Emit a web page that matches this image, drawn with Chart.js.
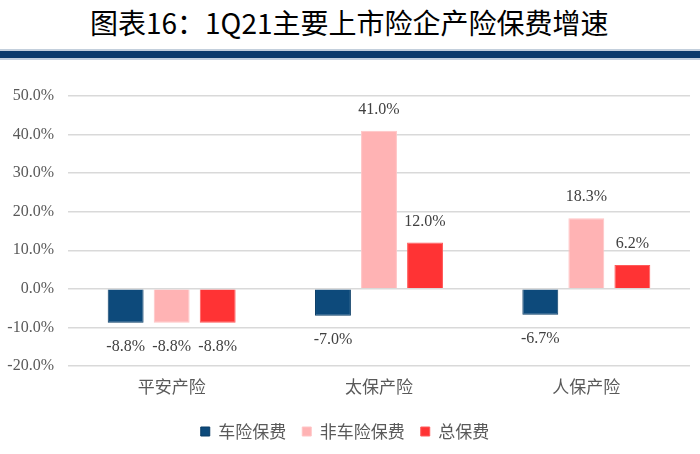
<!DOCTYPE html>
<html>
<head>
<meta charset="utf-8">
<script src="https://cdn.jsdelivr.net/npm/chart.js@4"></script>
<style>
html,body{margin:0;padding:0;background:#fff;width:700px;height:454px;overflow:hidden;}
#title{position:absolute;left:90px;top:3px;font-family:"Noto Sans CJK SC",sans-serif;font-size:28px;line-height:38px;color:#000;white-space:nowrap;}
#band{position:absolute;left:0;top:49px;width:700px;height:11px;background:#c3cfdc;}
#band2{position:absolute;left:0;top:51px;width:700px;height:7px;background:#0b3a6b;}
#wrap{position:absolute;left:0;top:60px;width:700px;height:394px;}
</style>
</head>
<body>
<div id="title">图表16：1Q21主要上市险企产险保费增速</div>
<div id="band"></div><div id="band2"></div>
<div id="wrap"><canvas id="c"></canvas></div>
<script>
const categories = ["平安产险", "太保产险", "人保产险"];
const seriesNames = ["车险保费", "非车险保费", "总保费"];
const autoPremium = [-8.8, -7.0, -6.7];
const nonAutoPremium = [-8.8, 41.0, 18.3];
const totalPremium = [-8.8, 12.0, 6.2];
const yTicks = [-20, -10, 0, 10, 20, 30, 40, 50];

const labelPlugin = {
  id: 'valueLabels',
  afterDatasetsDraw(chart) {
    const ctx = chart.ctx;
    ctx.save();
    ctx.font = '16px "Liberation Serif", serif';
    ctx.fillStyle = '#404040';
    ctx.textAlign = 'center';
    ctx.textBaseline = 'middle';
    chart.data.datasets.forEach((ds, i) => {
      const meta = chart.getDatasetMeta(i);
      meta.data.forEach((el, j) => {
        const v = ds.data[j];
        const txt = v.toFixed(1) + '%';
        const y = v >= 0 ? el.y - 21 : el.y + 24;
        ctx.fillText(txt, el.x, y);
      });
    });
    ctx.restore();
  }
};

new Chart(document.getElementById('c'), {
  type: 'bar',
  data: {
    labels: categories,
    datasets: [
      { label: seriesNames[0], data: autoPremium, backgroundColor: '#0d4a7b', borderColor: '#0a3d66', borderWidth: 1 },
      { label: seriesNames[1], data: nonAutoPremium, backgroundColor: '#ffb3b4', borderColor: '#ffc4c5', borderWidth: 1 },
      { label: seriesNames[2], data: totalPremium, backgroundColor: '#ff3334', borderColor: '#ff5a5a', borderWidth: 1 }
    ]
  },
  options: {
    responsive: true,
    maintainAspectRatio: false,
    animation: false,
    categoryPercentage: 0.666,
    barPercentage: 0.78,
    layout: { padding: { top: 36, right: 10, left: 0, bottom: 4 } },
    plugins: {
      tooltip: { enabled: false },
      legend: {
        position: 'bottom',
        labels: {
          boxWidth: 9, boxHeight: 9, padding: 16,
          color: '#595959',
          font: { family: '"Noto Sans CJK SC", sans-serif', size: 17 }
        }
      }
    },
    scales: {
      x: {
        grid: { display: false },
        border: { display: false },
        ticks: { color: '#595959', padding: 2, font: { family: '"Noto Sans CJK SC", sans-serif', size: 17 } },
        afterFit(s) { s.height = 41; }
      },
      y: {
        min: -20, max: 50,
        afterBuildTicks(s) { s.ticks = yTicks.map(v => ({ value: v })); },
        grid: { color: '#d9d9d9', lineWidth: 1.5, drawTicks: false },
        border: { display: false },
        ticks: {
          color: '#595959', padding: 14,
          font: { family: '"Liberation Serif", serif', size: 16 },
          callback: v => v.toFixed(1) + '%'
        },
        afterFit(s) { s.width = 68; }
      }
    }
  },
  plugins: [labelPlugin]
});
</script>
</body>
</html>
